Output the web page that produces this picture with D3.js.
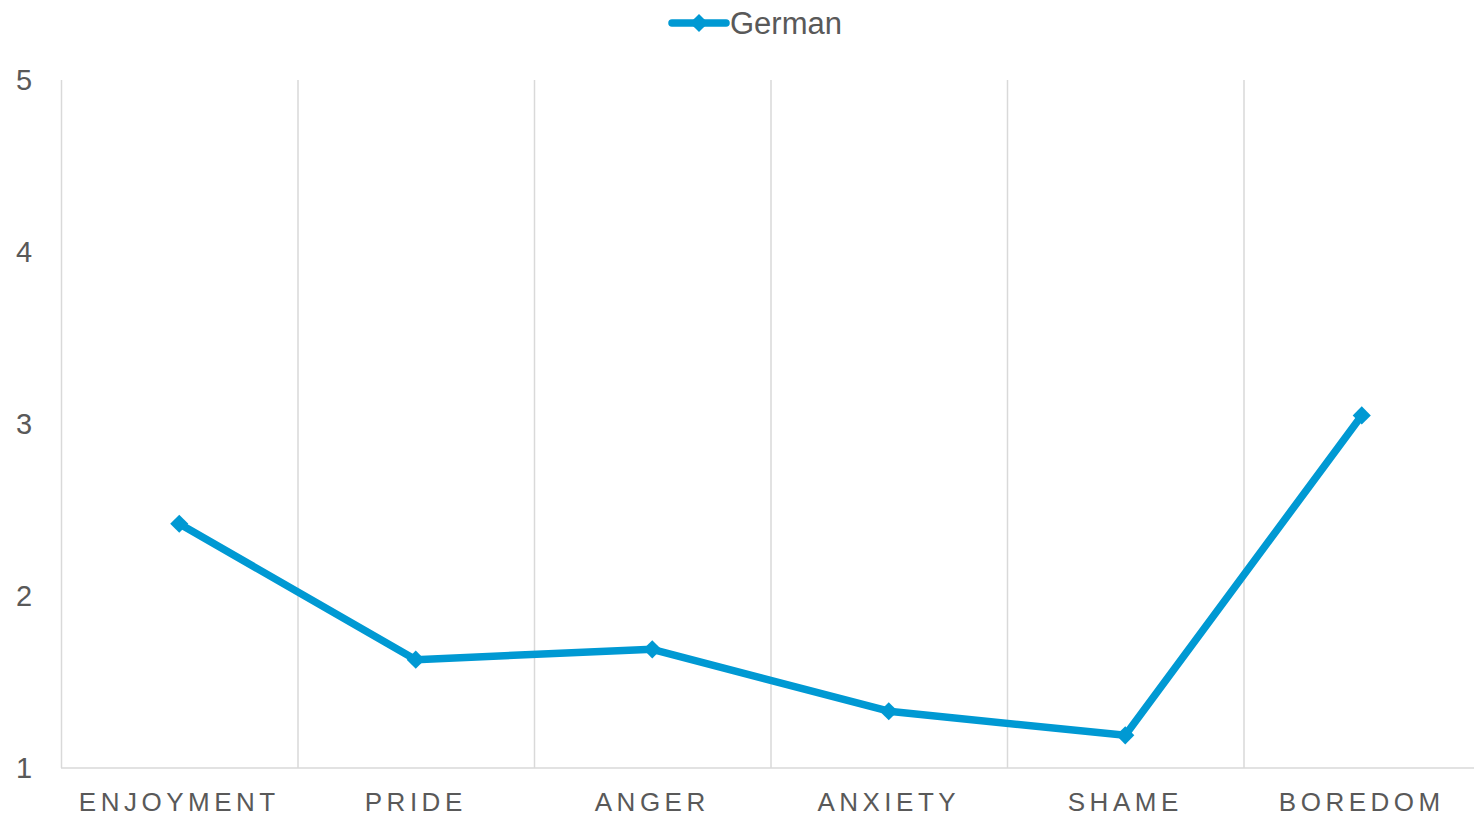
<!DOCTYPE html>
<html>
<head>
<meta charset="utf-8">
<script src="https://cdn.jsdelivr.net/npm/d3@7"></script>
<style>
  body { margin: 0; background: #fff; }
  text { font-family: "Liberation Sans", Arial, sans-serif; fill: #595959; }
</style>
</head>
<body>
<div id="chart"></div>
<script>
const categories = ["ENJOYMENT", "PRIDE", "ANGER", "ANXIETY", "SHAME", "BOREDOM"];
const german = [2.42, 1.63, 1.69, 1.33, 1.19, 3.05];
const yTicks = [1, 2, 3, 4, 5];
const seriesName = "German";

const width = 1474,
    height = 817,
    margin = ({ top: 80, right: -6, bottom: 49, left: 61 });

const color = "#0099d3";

const svg = d3.select("#chart")
    .append("svg")
    .attr("width", width)
    .attr("height", height);

const x = d3.scaleBand()
    .domain(categories)
    .range([margin.left, width - margin.right]);

const y = d3.scaleLinear()
    .domain([1, 5])
    .range([height - margin.bottom, margin.top]);

// vertical gridlines between categories
svg.append("g")
    .selectAll("line")
    .data(categories)
    .join("line")
    .attr("x1", d => x(d) + 0.5)
    .attr("x2", d => x(d) + 0.5)
    .attr("y1", y(5))
    .attr("y2", y(1))
    .attr("stroke", "#d9d9d9")
    .attr("stroke-width", 1.5);

// baseline
svg.append("line")
    .attr("x1", margin.left)
    .attr("x2", width - margin.right)
    .attr("y1", y(1))
    .attr("y2", y(1))
    .attr("stroke", "#d9d9d9")
    .attr("stroke-width", 1.5);

// y labels
svg.append("g")
    .selectAll("text")
    .data(yTicks)
    .join("text")
    .attr("x", 24)
    .attr("y", d => y(d))
    .attr("dy", "0.35em")
    .attr("text-anchor", "middle")
    .style("font-size", "29px")
    .text(d => d);

// x labels
svg.append("g")
    .selectAll("text")
    .data(categories)
    .join("text")
    .attr("x", d => x(d) + x.bandwidth() / 2)
    .attr("y", y(1) + 43)
    .attr("text-anchor", "middle")
    .style("font-size", "26px")
    .style("letter-spacing", "4.5px")
    .text(d => d);

const line = d3.line()
    .x((d, i) => x(categories[i]) + x.bandwidth() / 2)
    .y(d => y(d));

svg.append("path")
    .datum(german)
    .attr("fill", "none")
    .attr("stroke", color)
    .attr("stroke-width", 7.5)
    .attr("stroke-linejoin", "round")
    .attr("d", line);

const diamond = d3.symbol().type(d3.symbolDiamond2).size(210);

svg.append("g")
    .selectAll("path")
    .data(german)
    .join("path")
    .attr("transform", (d, i) => `translate(${x(categories[i]) + x.bandwidth() / 2},${y(d)})`)
    .attr("d", diamond)
    .attr("fill", color);

// legend
const legend = svg.append("g").attr("transform", "translate(672,23)");
legend.append("line")
    .attr("x1", 0)
    .attr("x2", 54)
    .attr("stroke", color)
    .attr("stroke-width", 7.5)
    .attr("stroke-linecap", "round");
legend.append("path")
    .attr("transform", "translate(27,0)")
    .attr("d", diamond)
    .attr("fill", color);
legend.append("text")
    .attr("x", 58)
    .attr("dy", "0.35em")
    .style("font-size", "31px")
    .text(seriesName);
</script>
</body>
</html>
